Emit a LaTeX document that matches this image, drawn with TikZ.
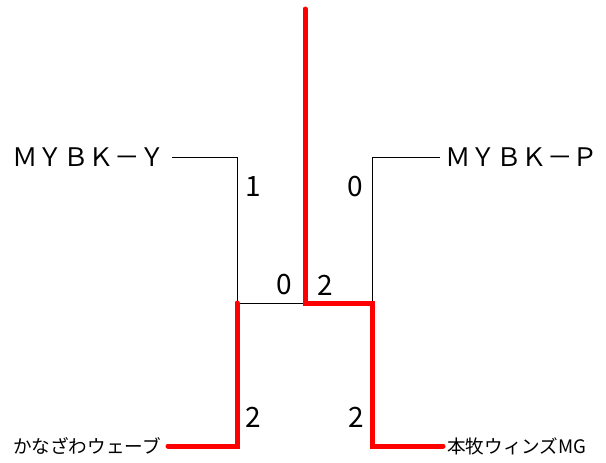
\documentclass[tikz,border=0pt]{standalone}
\usepackage{fontspec}
\setmainfont{Noto Sans CJK JP}
\begin{document}
\begin{tikzpicture}[x=1pt,y=-1pt,
  win/.style={draw=red,line width=5pt,line cap=round,line join=miter},
  lose/.style={draw=black,line width=0.9pt},
  team/.style={inner sep=0pt,anchor=west,font=\fontsize{18.6}{18.6}\selectfont},
  teamb/.style={inner sep=0pt,anchor=west,font=\fontsize{25.5}{25.5}\selectfont},
  score/.style={inner sep=0pt,font=\fontsize{28}{28}\selectfont}]
\useasboundingbox (0,0) rectangle (606,463);
\fill[white] (0,0) rectangle (606,463);
% teams
\node[teamb] (ty) at (12,157) {ＭＹＢＫ－Ｙ};
\node[teamb] (tp) at (445,157) {ＭＹＢＫ－Ｐ};
\node[team] (tk) at (13,446) {かなざわウェーブ};
\node[team] (th) at (447,446) {本牧ウィンズMG};
% junctions
\coordinate (top) at (305,9);
\coordinate (c) at (305,303);
\coordinate (l) at (237,303);
\coordinate (r) at (372,303);
\coordinate (ly) at (237,157);
\coordinate (rp) at (372,157);
\coordinate (lk) at (237,446);
\coordinate (rh) at (372,446);
\coordinate (ye) at (172,157);
\coordinate (pe) at (440,157);
\coordinate (ke) at (168,446);
\coordinate (he) at (443,446);
% losing lines
\draw[lose] (ye) -- (ly) -- (l) -- (c);
\draw[lose] (pe) -- (rp) -- (r);
% winning lines
\draw[win] (ke) -- (lk) -- (l);
\draw[win] (he) -- (rh) -- (r) -- (c) -- (top);
% scores
\node[score] (s1) at (253,187) {1};
\node[score] (s2) at (355,187) {0};
\node[score] (s3) at (284,285) {0};
\node[score] (s4) at (325,285) {2};
\node[score] (s5) at (253,417) {2};
\node[score] (s6) at (356,417) {2};
\end{tikzpicture}
\end{document}
